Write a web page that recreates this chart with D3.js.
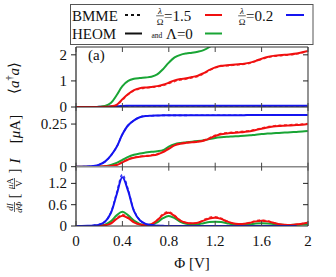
<!DOCTYPE html>
<html><head><meta charset="utf-8">
<script src="https://cdn.jsdelivr.net/npm/d3@7"></script>
<style>
body{margin:0;background:#fff}
svg{display:block}
</style>
</head><body>
<svg id="c" width="336" height="277"></svg>
<script>
// ---------- data ----------
const phi=[0,0.05,0.1,0.15,0.2,0.25,0.3,0.35,0.4,0.45,0.5,0.55,0.6,0.65,0.7,0.75,0.8,0.85,0.9,0.95,1,1.05,1.1,1.15,1.2,1.25,1.3,1.35,1.4,1.45,1.5,1.55,1.6,1.65,1.7,1.75,1.8,1.85,1.9,1.95,2];
// panel (a) top: <a†a>
const aaGreen=[0,0,0,0,0.01,0.04,0.15,0.45,0.8,1.0,1.08,1.11,1.13,1.16,1.25,1.45,1.7,1.9,2.0,2.05,2.08,2.12,2.18,2.3,2.5];
const aaRed=[0,0,0,0,0,0.005,0.02,0.08,0.3,0.5,0.65,0.72,0.75,0.77,0.8,0.85,0.93,1.02,1.07,1.1,1.15,1.2,1.3,1.42,1.52,1.58,1.6,1.62,1.64,1.66,1.7,1.77,1.85,1.92,1.96,1.98,2.0,2.02,2.05,2.1,2.15];
const aaRedBmme=[0,0,0,0,0,0.005,0.02,0.07,0.27,0.48,0.63,0.7,0.73,0.75,0.78,0.82,0.9,0.98,1.04,1.07,1.12,1.17,1.27,1.4,1.5,1.56,1.58,1.6,1.62,1.64,1.68,1.75,1.83,1.9,1.94,1.96,1.98,2.0,2.03,2.08,2.13];
const aaBlue=[0,0,0,0,0.005,0.01,0.02,0.03,0.04,0.045,0.05,0.05,0.05,0.05,0.05,0.05,0.05,0.05,0.05,0.05,0.05,0.05,0.05,0.05,0.05,0.05,0.05,0.05,0.05,0.05,0.05,0.05,0.05,0.05,0.05,0.05,0.05,0.05,0.05,0.05,0.05];
// panel middle: current I [µA]
const iBlue=[0,0,0.001,0.004,0.012,0.03,0.065,0.115,0.19,0.243,0.272,0.29,0.297,0.299,0.3,0.301,0.301,0.301,0.301,0.301,0.302,0.302,0.302,0.302,0.302,0.302,0.302,0.302,0.302,0.302,0.303,0.303,0.303,0.303,0.303,0.303,0.303,0.303,0.303,0.303,0.303];
const iGreen=[0,0,0,0,0.001,0.003,0.01,0.022,0.04,0.058,0.07,0.078,0.083,0.087,0.091,0.097,0.118,0.132,0.139,0.143,0.146,0.15,0.155,0.162,0.168,0.172,0.175,0.177,0.179,0.181,0.184,0.188,0.191,0.194,0.196,0.198,0.2,0.202,0.204,0.206,0.209];
const iRed=[0,0,0,0,0.001,0.002,0.004,0.01,0.025,0.042,0.052,0.058,0.062,0.066,0.072,0.085,0.105,0.125,0.135,0.14,0.143,0.146,0.152,0.165,0.18,0.19,0.195,0.198,0.201,0.204,0.208,0.215,0.222,0.23,0.235,0.238,0.24,0.242,0.244,0.246,0.25];
const iRedBmme=[0,0,0,0,0.001,0.002,0.005,0.011,0.027,0.044,0.054,0.06,0.064,0.068,0.075,0.088,0.108,0.128,0.138,0.143,0.146,0.149,0.156,0.169,0.184,0.194,0.199,0.202,0.205,0.208,0.212,0.219,0.226,0.234,0.239,0.242,0.244,0.246,0.248,0.25,0.253];
// panel bottom: dI/dPhi [µA/V]
const dBlue=[0,0,0.005,0.015,0.04,0.12,0.36,0.88,1.37,0.98,0.42,0.16,0.06,0.025,0.01,0.005,0,0,0,0,0,0,0,0,0,0,0,0,0,0,0,0,0,0,0,0,0,0,0];
const dBlueBmme=[0,0,0.005,0.015,0.045,0.13,0.38,0.93,1.45,1.02,0.44,0.17,0.06,0.025,0.01,0.005,0,0,0,0,0,0,0,0,0,0,0,0,0,0,0,0,0,0,0,0,0,0,0];
const dGreen=[0,0,0,0.003,0.01,0.04,0.13,0.3,0.4,0.3,0.15,0.06,0.03,0.04,0.1,0.22,0.28,0.22,0.12,0.06,0.04,0.05,0.08,0.11,0.12,0.11,0.08,0.05,0.04,0.04,0.05,0.07,0.075,0.07,0.055,0.04,0.03,0.03,0.035,0.04,0.045];
const dRed=[0,0,0,0,0.005,0.02,0.07,0.2,0.29,0.22,0.1,0.04,0.02,0.05,0.16,0.31,0.37,0.28,0.15,0.09,0.075,0.09,0.15,0.21,0.23,0.2,0.13,0.08,0.055,0.06,0.09,0.13,0.15,0.13,0.09,0.05,0.035,0.03,0.04,0.065,0.09];
const dRedBmme=[0,0,0,0,0.005,0.02,0.08,0.22,0.32,0.24,0.11,0.04,0.02,0.05,0.17,0.34,0.4,0.3,0.16,0.09,0.075,0.1,0.17,0.24,0.26,0.22,0.14,0.08,0.055,0.065,0.1,0.15,0.17,0.14,0.1,0.05,0.035,0.03,0.045,0.07,0.1];
const xTicks=[0,0.4,0.8,1.2,1.6,2];
const xTickLabels=["0","0.4","0.8","1.2","1.6","2"];
const y1Ticks=[0,1,2], y2Ticks=[0,0.25], y3Ticks=[0,0.6,1.2];
const y2TickLabels=["0","0.25"], y3TickLabels=["0","0.6","1.2"];

// ---------- layout ----------
const FONT='"Liberation Serif"';
const RED="#f01010", GREEN="#19a535", BLUE="#1515f0";
const svg=d3.select("#c");
const L=76,R=308;
const x=d3.scaleLinear().domain([0,2]).range([L,R]);
const panels=[
 {top:47,bot:107,dom:[0,2.3]},
 {top:107,bot:166.7,dom:[0,0.35]},
 {top:166.7,bot:226,dom:[0,1.67]}
];
panels.forEach((p,i)=>{
  p.y=d3.scaleLinear().domain(p.dom).range([p.bot,p.top]);
  svg.append("clipPath").attr("id","cp"+i).append("rect")
    .attr("x",L).attr("y",p.top).attr("width",R-L).attr("height",p.bot-p.top);
  p.g=svg.append("g").attr("clip-path",`url(#cp${i})`);
});
function curve(p,vals,color,dashed){
  const data=vals.map((v,i)=>[phi[i],v]);
  const line=d3.line().x(d=>x(d[0])).y(d=>p.y(d[1])).curve(d3.curveCatmullRom.alpha(0.5));
  p.g.append("path").attr("d",line(data)).attr("fill","none")
    .attr("stroke",color).attr("stroke-width",dashed?1.6:2)
    .attr("stroke-dasharray",dashed?"3,2.5":null)
    .attr("stroke-opacity",dashed?0.85:1);
}
const [P1,P2,P3]=panels;
curve(P1,aaBlue,BLUE); curve(P1,aaBlue,BLUE,true);
curve(P1,aaGreen,GREEN);
curve(P1,aaRed,RED); curve(P1,aaRedBmme,RED,true);
curve(P2,iGreen,GREEN);
curve(P2,iRed,RED); curve(P2,iRedBmme,RED,true);
curve(P2,iBlue,BLUE); curve(P2,iBlue,BLUE,true);
curve(P3,dGreen,GREEN);
curve(P3,dRed,RED); curve(P3,dRedBmme,RED,true);
curve(P3,dBlue,BLUE); curve(P3,dBlueBmme,BLUE,true);

// ---------- text helper ----------
function T(parent,xx,yy,fs,str,anchor,italic){
  return parent.append("text").attr("x",xx).attr("y",yy)
    .style("font-family",FONT).style("font-size",fs+"px")
    .style("font-style",italic?"italic":"normal").attr("fill","#111")
    .attr("text-anchor",anchor||"start").text(str);
}

// ---------- frames & ticks ----------
const fr=svg.append("g");
fr.append("line").attr("x1",L).attr("x2",L).attr("y1",47).attr("y2",226).attr("stroke","#222").attr("stroke-width",1.2);
fr.append("line").attr("x1",R).attr("x2",R).attr("y1",47).attr("y2",226).attr("stroke","#666").attr("stroke-width",1.4);
fr.append("line").attr("x1",L).attr("x2",R).attr("y1",47).attr("y2",47).attr("stroke","#333").attr("stroke-width",1);
fr.append("line").attr("x1",L).attr("x2",R).attr("y1",107).attr("y2",107).attr("stroke","#222").attr("stroke-width",1.2);
fr.append("line").attr("x1",L).attr("x2",R).attr("y1",166.7).attr("y2",166.7).attr("stroke","#888").attr("stroke-width",1.6);
fr.append("line").attr("x1",L).attr("x2",R).attr("y1",226).attr("y2",226).attr("stroke","#333").attr("stroke-width",1.2);
xTicks.forEach(t=>{
  const xx=x(t);
  [[47,52],[103,111],[162.7,170.7],[221,226]].forEach(([a,b])=>{
    fr.append("line").attr("x1",xx).attr("x2",xx).attr("y1",a).attr("y2",b).attr("stroke","#444").attr("stroke-width",1);
  });
});
function yTicks(p,ticks,labels,right){
  ticks.forEach((t,i)=>{
    const yy=p.y(t);
    fr.append("line").attr("x1",L-5).attr("x2",L).attr("y1",yy).attr("y2",yy).attr("stroke","#222");
    if(right && t>0) fr.append("line").attr("x1",R-5).attr("x2",R).attr("y1",yy).attr("y2",yy).attr("stroke","#222");
    T(svg,67,yy+5,15,labels[i],"end");
  });
}
yTicks(P1,y1Ticks,y1Ticks.map(String),true);
yTicks(P2,y2Ticks,y2TickLabels,false);
yTicks(P3,y3Ticks,y3TickLabels,true);
xTicks.forEach((t,i)=>T(svg,x(t),246,15,xTickLabels[i],"middle"));
T(svg,(L+R)/2,268,15,"Φ [V]","middle");
T(svg,88,60,15,"(a)");

// ---------- y labels ----------
const yl1=T(svg,0,0,15,"","middle").attr("transform","translate(19,78) rotate(-90)");
yl1.append("tspan").text("⟨");
yl1.append("tspan").style("font-style","italic").text("a");
yl1.append("tspan").style("font-size","10px").attr("dy",-6).text("†");
yl1.append("tspan").style("font-style","italic").attr("dy",6).text("a");
yl1.append("tspan").text("⟩");
T(svg,0,0,15,"I","middle",true).attr("transform","translate(20,161) rotate(-90)");
const yl2=T(svg,0,0,15,"","middle").attr("transform","translate(20,129) rotate(-90)");
yl2.append("tspan").text("[");
yl2.append("tspan").style("font-style","italic").text("μ");
yl2.append("tspan").text("A]");
// dI/dΦ [µA/V]
const g3=svg.append("g").attr("transform","translate(15,191) rotate(-90)");
T(g3,-16,-1.8,9,"dI","middle",true);
g3.append("line").attr("x1",-21).attr("x2",-11).attr("y1",-0.5).attr("y2",-0.5).attr("stroke","#222").attr("stroke-width",0.7);
T(g3,-16,6.8,9,"dΦ","middle",true);
T(g3,-5,4,14,"[","middle");
T(g3,20,4,14,"]","middle");
const mu=T(g3,7.5,-1.8,9,"","middle");
mu.append("tspan").style("font-style","italic").text("μ");
mu.append("tspan").text("A");
g3.append("line").attr("x1",2).attr("x2",13).attr("y1",-0.5).attr("y2",-0.5).attr("stroke","#222").attr("stroke-width",0.7);
T(g3,7.5,6.8,9,"V","middle");

// ---------- legend ----------
const lg=svg.append("g");
lg.append("rect").attr("x",70.5).attr("y",4.5).attr("width",242.5).attr("height",40).attr("fill","#fff").attr("stroke","#555").attr("stroke-width",1);
T(lg,72,20.5,15,"BMME");
T(lg,72,38.5,15,"HEOM");
lg.append("line").attr("x1",125).attr("x2",142).attr("y1",15).attr("y2",15).attr("stroke","#111").attr("stroke-width",2).attr("stroke-dasharray","3,3");
lg.append("line").attr("x1",125).attr("x2",142).attr("y1",33.5).attr("y2",33.5).attr("stroke","#111").attr("stroke-width",2);
function legFrac(cx){
  T(lg,cx,13.6,9,"λ","middle",true);
  lg.append("line").attr("x1",cx-3.8).attr("x2",cx+3.8).attr("y1",15.8).attr("y2",15.8).attr("stroke","#222").attr("stroke-width",0.7);
  T(lg,cx,24.8,9,"Ω","middle");
}
legFrac(160);
T(lg,164,20.5,15,"=1.5");
legFrac(242);
T(lg,246,20.5,15,"=0.2");
T(lg,151.5,37.5,7.5,"and");
T(lg,166,38.5,15,"Λ=0");
lg.append("line").attr("x1",205).attr("x2",222).attr("y1",15).attr("y2",15).attr("stroke",RED).attr("stroke-width",2);
lg.append("line").attr("x1",286).attr("x2",304).attr("y1",15).attr("y2",15).attr("stroke",BLUE).attr("stroke-width",2);
lg.append("line").attr("x1",205).attr("x2",222).attr("y1",33.5).attr("y2",33.5).attr("stroke",GREEN).attr("stroke-width",2);
</script>
</body></html>
